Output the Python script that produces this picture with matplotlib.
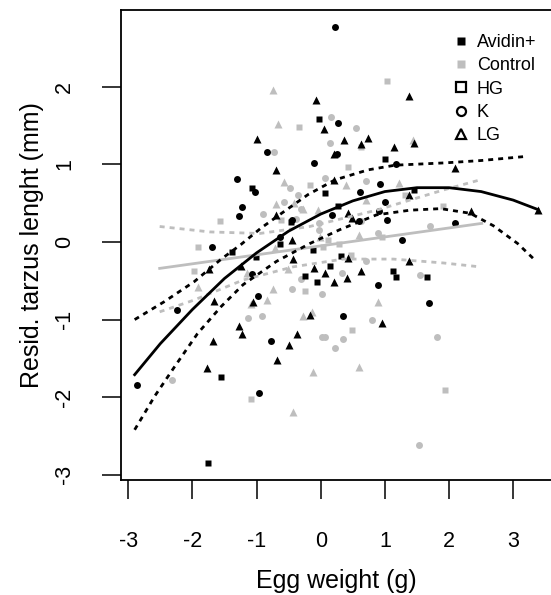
import numpy as np
import matplotlib
matplotlib.use("Agg")
import matplotlib.pyplot as plt
from matplotlib.lines import Line2D

plt.rcParams['font.family'] = ['Liberation Sans', 'DejaVu Sans']
plt.rcParams['axes.unicode_minus'] = False

GRAY = '#BEBEBE'

# --- points (egg weight, residual tarsus length) ---
# Avidin+ (black)
avi_hg_x = [-0.03, 1.00, -1.07, 0.07, 1.46, 0.27, -0.63, -1.39, -1.01, -0.12, -0.06, -0.24,
            0.15, 0.31, 1.13, 1.17, 1.65, -1.55, -1.75, -0.46]
avi_hg_y = [1.58, 1.07, 0.69, 0.63, 0.67, 0.47, -0.02, -0.13, -0.19, -0.10, -0.51, -0.44,
            -0.31, -0.18, -0.37, -0.45, -0.45, -1.74, -2.85, 0.26]
avi_k_x = [0.22, 0.27, -0.84, 0.25, -0.10, 1.17, -1.31, -1.03, 0.93, 0.61, 1.00, -1.23,
           -1.27, 0.91, 1.03, 2.09, -0.45, 0.18, 0.60, 1.26, -1.70, -0.63, -2.24, -1.07,
           0.89, 1.69, -0.97, 0.35, -0.77, -2.87, -0.96]
avi_k_y = [2.77, 1.53, 1.16, 1.14, 1.02, 1.00, 0.81, 0.65, 0.75, 0.64, 0.51, 0.45,
           0.33, 0.40, 0.29, 0.25, 0.28, 0.35, 0.27, 0.03, -0.07, 0.07, -0.88, -0.41,
           -0.55, -0.78, -0.70, -0.95, -1.28, -1.84, -1.94]
avi_lg_x = [1.38, -0.08, 0.05, -1.00, 0.36, 0.73, 0.63, 1.14, 1.45, 0.20, 2.09, -0.69,
            0.21, 1.38, 0.42, 0.48, 2.34, 3.38, -0.45, -1.74, -1.25, -0.43, -0.10, 0.07,
            0.21, 0.41, 0.43, 0.62, 1.38, -1.05, -1.67, -0.17, 0.95, -1.27, -1.22, -1.68,
            -0.50, -0.37, -0.68, -1.78, -0.69]
avi_lg_y = [1.88, 1.83, 1.46, 1.33, 1.32, 1.34, 1.26, 1.23, 1.27, 1.13, 0.95, 0.93,
            0.80, 0.60, 0.38, 0.31, 0.40, 0.41, 0.03, -0.35, -0.31, -0.22, -0.34, -0.40,
            -0.52, -0.47, -0.21, -0.38, -0.25, -0.77, -0.76, -0.94, -1.05, -1.08, -1.18, -1.28,
            -1.33, -1.19, -1.52, -1.63, 0.35]
# Control (grey)
ctl_hg_x = [1.03, -0.34, 0.42, -0.17, 1.31, 1.90, -0.62, -1.57, 0.95, -1.92, -1.97, 0.04,
            0.12, 0.28, 0.47, -0.24, 0.49, -1.08, 1.94, 0.63]
ctl_hg_y = [2.08, 1.48, 0.97, 0.73, 0.61, 0.46, 0.29, 0.27, 0.06, -0.07, -0.38, -0.06,
            0.03, -0.03, -0.17, -0.63, -1.13, -2.02, -1.91, 1.22]
ctl_k_x = [0.16, 0.55, -0.73, 0.14, 0.06, -0.48, -0.36, -0.57, -0.30, -0.90, -0.02, 1.70,
           -0.38, -0.02, 0.71, 0.90, 0.63, 0.33, -0.30, 0.71, 1.55, -0.45, 0.02, -1.13,
           -0.92, 0.80, 0.02, 0.06, 0.35, 0.22, 1.81, -2.32, 1.53]
ctl_k_y = [1.61, 1.47, 1.16, 1.28, 0.83, 0.69, 0.61, 0.51, 0.43, 0.36, 0.25, 0.21,
           0.30, 0.15, 0.78, 0.12, 0.27, -0.40, -0.48, -0.25, -0.43, -0.61, -0.67, -0.98,
           -0.95, -1.01, -1.22, -1.22, -1.25, -1.37, -1.23, -1.78, -2.62]
ctl_lg_x = [-0.75, -0.67, 1.44, -0.57, 0.39, 1.22, 0.70, -0.69, -0.41, -0.28, -0.05, 0.59,
            -0.01, -0.71, -1.92, -1.15, -0.74, -0.83, -1.09, -0.27, -0.13, 0.89, -0.12, 0.59,
            -0.43, -0.51]
ctl_lg_y = [1.96, 1.52, 1.32, 0.77, 0.74, 0.76, 0.54, 0.49, 0.50, 0.43, 0.41, 0.09,
            0.06, -0.08, -0.58, -0.40, -0.61, -0.75, -0.80, -0.95, -0.90, -0.77, -1.68, -1.61,
            -2.19, -0.35]

# --- fitted curves ---
avi_fit_x = [-2.90, -2.50, -2.00, -1.50, -1.00, -0.50, 0.00, 0.50, 1.00, 1.50, 2.00, 2.50, 3.00, 3.38]
avi_fit_y = [-1.71, -1.31, -0.87, -0.47, -0.14, 0.14, 0.36, 0.53, 0.65, 0.70, 0.70, 0.65, 0.54, 0.42]
avi_up_x = [-2.90, -2.44, -1.97, -1.55, -1.24, -0.93, -0.61, -0.20, 0.22, 0.74, 1.16, 1.94, 2.50, 3.16]
avi_up_y = [-1.00, -0.77, -0.51, -0.22, -0.03, 0.18, 0.37, 0.61, 0.80, 0.93, 0.99, 1.02, 1.05, 1.10]
avi_lo_x = [-2.90, -2.59, -2.28, -1.92, -1.55, -1.21, -0.69, -0.17, 0.30, 0.87, 1.39, 1.87, 2.33, 2.69, 3.07, 3.36]
avi_lo_y = [-2.42, -1.99, -1.61, -1.18, -0.83, -0.55, -0.25, -0.02, 0.16, 0.35, 0.41, 0.43, 0.37, 0.21, -0.02, -0.25]
ctl_fit_x = [-2.51, 2.51]
ctl_fit_y = [-0.34, 0.24]
ctl_up_x = [-2.51, -1.73, -0.95, -0.17, 0.87, 1.91, 2.48]
ctl_up_y = [0.20, 0.13, 0.11, 0.20, 0.41, 0.67, 0.80]
ctl_lo_x = [-2.51, -1.98, -1.21, -0.43, 0.35, 1.13, 1.91, 2.48]
ctl_lo_y = [-0.90, -0.75, -0.49, -0.32, -0.22, -0.22, -0.27, -0.32]

legend_labels = ["Avidin+", "Control", "HG", "K", "LG"]

fig = plt.figure(figsize=(5.51, 5.95), dpi=100)
ax = fig.add_axes([0.2191, 0.1933, 0.7809, 0.7899])

ms = {'s': 4.3, 'o': 5.0, '^': 5.6}
for xs, ys, m in [(ctl_hg_x, ctl_hg_y, 's'), (ctl_k_x, ctl_k_y, 'o'), (ctl_lg_x, ctl_lg_y, '^')]:
    ax.plot(xs, ys, ls='none', marker=m, ms=ms[m], color=GRAY, mec='none')
for xs, ys, m in [(avi_hg_x, avi_hg_y, 's'), (avi_k_x, avi_k_y, 'o'), (avi_lg_x, avi_lg_y, '^')]:
    ax.plot(xs, ys, ls='none', marker=m, ms=ms[m], color='black', mec='none')

dash = (0, (1.8, 1.8))
ax.plot(ctl_fit_x, ctl_fit_y, color=GRAY, lw=2)
ax.plot(ctl_up_x, ctl_up_y, color=GRAY, lw=2, ls=dash)
ax.plot(ctl_lo_x, ctl_lo_y, color=GRAY, lw=2, ls=dash)
ax.plot(avi_fit_x, avi_fit_y, color='black', lw=2)
ax.plot(avi_up_x, avi_up_y, color='black', lw=2, ls=dash)
ax.plot(avi_lo_x, avi_lo_y, color='black', lw=2, ls=dash)

ax.set_xlim(-3.117, 3.589)
ax.set_ylim(-3.067, 2.990)
ax.set_xticks([-3, -2, -1, 0, 1, 2, 3])
ax.set_yticks([-3, -2, -1, 0, 1, 2])
ax.spines['right'].set_visible(False)
for s in ['left', 'bottom', 'top']:
    ax.spines[s].set_linewidth(1.3)
ax.tick_params(axis='both', direction='out', length=14, width=1.1, labelsize=15.5)
ax.tick_params(axis='x', pad=23)
ax.tick_params(axis='y', pad=19)
for lab in ax.get_yticklabels():
    lab.set_rotation(90)
    lab.set_va('center')
ax.set_xlabel("Egg weight (g)", fontsize=18, labelpad=12)
ax.set_ylabel("Resid. tarzus lenght (mm)", fontsize=18, labelpad=7)

# legend
handles = [
    Line2D([], [], ls='none', marker='s', ms=6, color='black', mec='none'),
    Line2D([], [], ls='none', marker='s', ms=6, color=GRAY, mec='none'),
    Line2D([], [], ls='none', marker='s', ms=6.5, mfc='none', mec='black', mew=1.6),
    Line2D([], [], ls='none', marker='o', ms=6.5, mfc='none', mec='black', mew=1.6),
    Line2D([], [], ls='none', marker='^', ms=7, mfc='none', mec='black', mew=1.6),
]
ax.legend(handles, legend_labels, loc='upper left', bbox_to_anchor=(0.752, 0.964),
          frameon=False, fontsize=13, handlelength=1.0, handletextpad=0.4,
          labelspacing=0.35, borderaxespad=0)

fig.savefig("out.png", dpi=100)
